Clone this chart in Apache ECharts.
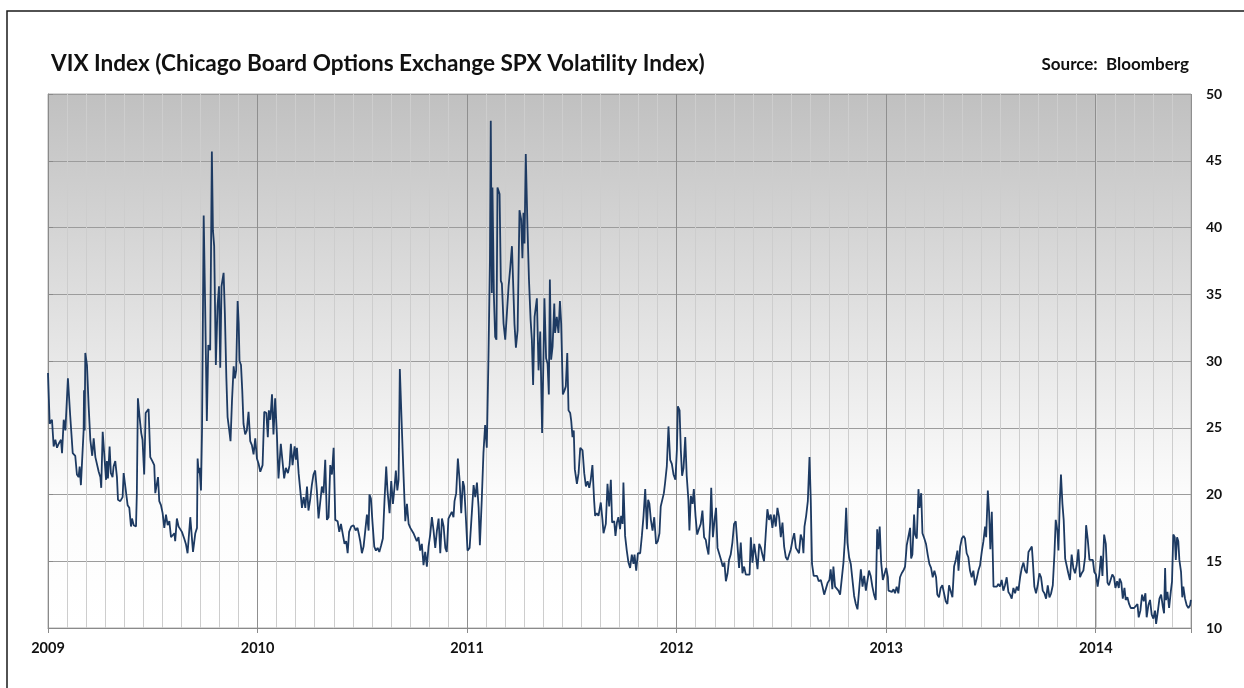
<!DOCTYPE html>
<html>
<head>
<meta charset="utf-8">
<title>VIX Index</title>
<script src="https://cdn.jsdelivr.net/npm/echarts@6/dist/echarts.min.js"></script>
<style>
  html, body { margin: 0; padding: 0; background: #fff; }
  #main { width: 1244px; height: 688px; }
</style>
</head>
<body>
<div id="main"></div>
<script>
// x positions in chart years (the axis is labelled 2009 .. 2014, 11 minor divisions per year)
var dates = [
  2009.000, 2009.008, 2009.019, 2009.027, 2009.035, 2009.043, 2009.051, 2009.062, 2009.067, 2009.075,
  2009.083, 2009.095, 2009.106, 2009.118, 2009.130, 2009.138, 2009.146, 2009.151, 2009.157, 2009.170,
  2009.172, 2009.175, 2009.178, 2009.186, 2009.194, 2009.202, 2009.211, 2009.218, 2009.226, 2009.234,
  2009.242, 2009.250, 2009.254, 2009.261, 2009.270, 2009.277, 2009.281, 2009.286, 2009.294, 2009.300,
  2009.308, 2009.313, 2009.321, 2009.329, 2009.334, 2009.345, 2009.356, 2009.361, 2009.369, 2009.380,
  2009.388, 2009.396, 2009.401, 2009.409, 2009.420, 2009.424, 2009.429, 2009.437, 2009.445, 2009.451,
  2009.459, 2009.466, 2009.480, 2009.488, 2009.498, 2009.507, 2009.512, 2009.520, 2009.525, 2009.531,
  2009.539, 2009.547, 2009.555, 2009.563, 2009.571, 2009.579, 2009.587, 2009.595, 2009.603, 2009.607,
  2009.615, 2009.623, 2009.631, 2009.639, 2009.650, 2009.658, 2009.666, 2009.674,
  2009.679, 2009.692, 2009.703, 2009.711, 2009.714, 2009.719, 2009.723, 2009.730, 2009.735, 2009.743,
  2009.750, 2009.758, 2009.765, 2009.774, 2009.782, 2009.787, 2009.793, 2009.801, 2009.809, 2009.816,
  2009.822, 2009.828, 2009.838, 2009.844, 2009.851, 2009.857, 2009.865, 2009.871, 2009.878, 2009.886,
  2009.892, 2009.898, 2009.905, 2009.910, 2009.914, 2009.921, 2009.927, 2009.933, 2009.941, 2009.949,
  2009.957, 2009.965, 2009.973, 2009.981, 2009.989, 2009.997,
  2010.005, 2010.013, 2010.024, 2010.032, 2010.042, 2010.049, 2010.054, 2010.061, 2010.069, 2010.076,
  2010.084, 2010.092, 2010.100, 2010.111, 2010.119, 2010.127, 2010.135, 2010.145, 2010.153, 2010.159,
  2010.167, 2010.177, 2010.183, 2010.188, 2010.196, 2010.204, 2010.212, 2010.220, 2010.228, 2010.236,
  2010.243, 2010.251, 2010.259, 2010.267, 2010.275, 2010.283, 2010.291, 2010.299, 2010.307, 2010.315,
  2010.323, 2010.331, 2010.339, 2010.347, 2010.355, 2010.363, 2010.371, 2010.382, 2010.390, 2010.398,
  2010.407, 2010.415, 2010.423, 2010.430, 2010.437, 2010.447, 2010.458, 2010.468, 2010.477, 2010.484,
  2010.490, 2010.498, 2010.506, 2010.514, 2010.522, 2010.530, 2010.534, 2010.541, 2010.549, 2010.557,
  2010.565, 2010.573, 2010.581, 2010.590, 2010.598, 2010.606, 2010.614, 2010.620, 2010.630, 2010.638,
  2010.646, 2010.654, 2010.660, 2010.667, 2010.673, 2010.679, 2010.689, 2010.697, 2010.705, 2010.713,
  2010.721, 2010.729, 2010.736, 2010.744, 2010.752, 2010.760, 2010.768, 2010.776, 2010.784, 2010.792,
  2010.800, 2010.808, 2010.816, 2010.824, 2010.832, 2010.840, 2010.848, 2010.856, 2010.864, 2010.872,
  2010.880, 2010.888, 2010.896, 2010.903, 2010.911, 2010.919, 2010.927, 2010.935, 2010.940, 2010.948,
  2010.956, 2010.964, 2010.972, 2010.980, 2010.986, 2010.994, 2011.002, 2011.012,
  2011.031, 2011.039, 2011.047, 2011.055, 2011.061, 2011.070, 2011.078, 2011.086, 2011.094, 2011.102,
  2011.109, 2011.113, 2011.118, 2011.121, 2011.128, 2011.134, 2011.140, 2011.145, 2011.155, 2011.161,
  2011.166, 2011.174, 2011.182, 2011.190, 2011.198, 2011.206, 2011.214, 2011.222, 2011.226, 2011.233,
  2011.241, 2011.250, 2011.258, 2011.264, 2011.269, 2011.274, 2011.280, 2011.288, 2011.295, 2011.303,
  2011.309, 2011.315, 2011.322, 2011.328, 2011.333, 2011.341, 2011.349, 2011.358, 2011.365, 2011.369,
  2011.377, 2011.384, 2011.390, 2011.395, 2011.401, 2011.408, 2011.416, 2011.420, 2011.428, 2011.436,
  2011.443, 2011.449, 2011.457, 2011.465, 2011.471, 2011.478, 2011.484, 2011.492, 2011.497, 2011.503,
  2011.509,
  2011.514, 2011.524, 2011.532, 2011.540, 2011.551, 2011.559, 2011.567, 2011.575, 2011.583, 2011.590,
  2011.598, 2011.606, 2011.611, 2011.619, 2011.627, 2011.638, 2011.646, 2011.651, 2011.662, 2011.670,
  2011.678, 2011.686, 2011.692, 2011.702, 2011.708, 2011.715, 2011.722, 2011.730, 2011.735, 2011.742,
  2011.746, 2011.754, 2011.762, 2011.770, 2011.778, 2011.786, 2011.794, 2011.799, 2011.807, 2011.815,
  2011.826, 2011.834, 2011.842, 2011.850, 2011.858, 2011.864, 2011.870, 2011.877, 2011.885, 2011.893,
  2011.902, 2011.910, 2011.918, 2011.924, 2011.932, 2011.939, 2011.945, 2011.953, 2011.961, 2011.969,
  2011.977, 2011.985, 2011.994, 2012.001, 2012.006, 2012.014, 2012.020, 2012.026, 2012.033, 2012.041,
  2012.048, 2012.056, 2012.061, 2012.068, 2012.076, 2012.082, 2012.090, 2012.098, 2012.106,
  2012.115, 2012.123, 2012.131, 2012.139, 2012.144, 2012.152, 2012.160, 2012.165, 2012.173, 2012.181,
  2012.188, 2012.195, 2012.204, 2012.212, 2012.220, 2012.228, 2012.235, 2012.243, 2012.250, 2012.258,
  2012.266, 2012.274, 2012.282, 2012.290, 2012.298, 2012.306, 2012.314, 2012.322, 2012.330, 2012.338,
  2012.348, 2012.354, 2012.362, 2012.370, 2012.378, 2012.386, 2012.394, 2012.402, 2012.409, 2012.417,
  2012.425, 2012.433, 2012.441, 2012.449, 2012.457, 2012.465, 2012.473, 2012.481, 2012.489, 2012.497,
  2012.505, 2012.513, 2012.521, 2012.529, 2012.537, 2012.545, 2012.553, 2012.561, 2012.569, 2012.576,
  2012.584, 2012.592, 2012.600, 2012.605, 2012.610, 2012.618, 2012.626, 2012.634, 2012.640, 2012.646,
  2012.654, 2012.662, 2012.670, 2012.678, 2012.688, 2012.696, 2012.704, 2012.713, 2012.721, 2012.729,
  2012.735, 2012.743, 2012.748, 2012.756, 2012.764, 2012.772, 2012.780, 2012.788, 2012.796, 2012.802,
  2012.809, 2012.815, 2012.823, 2012.831, 2012.839, 2012.847, 2012.855, 2012.863, 2012.871, 2012.879,
  2012.887, 2012.895, 2012.903, 2012.911, 2012.918, 2012.926, 2012.934, 2012.942, 2012.950, 2012.957,
  2012.963, 2012.969, 2012.976, 2012.984, 2012.992, 2013.000, 2013.008,
  2013.011, 2013.019, 2013.027, 2013.035, 2013.042, 2013.050, 2013.058, 2013.066, 2013.074, 2013.082,
  2013.090, 2013.098, 2013.106, 2013.114, 2013.119, 2013.125, 2013.133, 2013.138, 2013.146, 2013.154,
  2013.159, 2013.167, 2013.173, 2013.182, 2013.190, 2013.198, 2013.206, 2013.214, 2013.222, 2013.230,
  2013.238, 2013.244, 2013.252, 2013.260, 2013.268, 2013.276, 2013.284, 2013.292, 2013.300, 2013.308,
  2013.316, 2013.324, 2013.332, 2013.340, 2013.345, 2013.353, 2013.361, 2013.369, 2013.376, 2013.384,
  2013.392, 2013.400, 2013.408, 2013.416, 2013.424, 2013.432, 2013.440, 2013.448, 2013.456, 2013.464,
  2013.472, 2013.477, 2013.485, 2013.491, 2013.497, 2013.504, 2013.512, 2013.520, 2013.528, 2013.535,
  2013.543, 2013.551, 2013.559, 2013.567, 2013.575, 2013.583, 2013.591, 2013.599, 2013.607, 2013.615,
  2013.623, 2013.631, 2013.639, 2013.647, 2013.655, 2013.663, 2013.671, 2013.679, 2013.687, 2013.695,
  2013.699, 2013.707, 2013.715, 2013.723, 2013.731, 2013.739, 2013.747, 2013.755, 2013.763, 2013.771,
  2013.779, 2013.787, 2013.795, 2013.803, 2013.809, 2013.817, 2013.822, 2013.828, 2013.834, 2013.841,
  2013.847, 2013.854, 2013.861, 2013.869, 2013.877, 2013.885, 2013.893, 2013.901, 2013.909, 2013.917,
  2013.925, 2013.933, 2013.941, 2013.949, 2013.954, 2013.962, 2013.970, 2013.978, 2013.986,
  2013.993, 2014.001, 2014.009, 2014.017, 2014.025, 2014.032, 2014.040, 2014.048, 2014.056, 2014.063,
  2014.071, 2014.079, 2014.087, 2014.094, 2014.102, 2014.110, 2014.114, 2014.122, 2014.129, 2014.137,
  2014.143, 2014.151, 2014.159, 2014.167, 2014.175, 2014.183, 2014.191, 2014.199, 2014.205, 2014.213,
  2014.221, 2014.229, 2014.237, 2014.243, 2014.251, 2014.259, 2014.267, 2014.275, 2014.283, 2014.288,
  2014.296, 2014.304, 2014.312, 2014.320, 2014.326, 2014.331, 2014.335, 2014.342, 2014.350, 2014.358,
  2014.364, 2014.370, 2014.377, 2014.382, 2014.388, 2014.394, 2014.399, 2014.407, 2014.413, 2014.418,
  2014.426, 2014.434, 2014.442, 2014.450, 2014.454
];

var vix = [
  29.1, 25.3, 25.6, 23.6, 24.1, 23.5, 23.8, 24.1, 23.1, 25.6,
  24.8, 28.7, 25.9, 23.1, 22.9, 21.5, 21.3, 22.1, 20.7, 24.8,
  27.8, 24.8, 30.6, 29.7, 26.6, 24.1, 22.9, 24.2, 22.8, 22.9,
  21.7, 21.3, 20.5, 24.7, 24.6, 21.1, 22.5, 21.2, 23.6, 21.6,
  21.3, 22.1, 22.5, 21.3, 19.6, 19.5, 19.8, 21.6, 20.6, 19.2,
  19.0, 17.6, 18.2, 17.7, 17.6, 20.1, 27.2, 25.8, 24.6, 24.1,
  21.5, 26.1, 26.4, 22.8, 22.5, 22.2, 20.1, 20.0, 21.3, 19.5,
  19.2, 18.6, 17.5, 18.5, 17.7, 18.0, 16.8, 16.7, 17.1, 16.5,
  18.2, 17.6, 17.5, 17.2, 16.7, 16.3, 15.6, 15.6,
  18.3, 15.7, 17.1, 17.5, 22.7, 21.6, 22.0, 20.3, 24.8, 40.9,
  34.1, 25.5, 31.2, 30.8, 45.7, 39.8, 38.6, 29.7, 34.1, 35.6,
  29.5, 35.6, 36.6, 33.6, 28.8, 25.8, 24.8, 24.0, 27.0, 29.6,
  28.7, 29.3, 34.5, 32.8, 30.0, 29.7, 27.8, 25.3, 24.5, 24.8,
  26.2, 24.0, 23.7, 23.0, 24.2, 22.7,
  22.3, 21.7, 22.2, 26.2, 26.1, 24.3, 26.3, 25.6, 27.5, 24.5,
  27.2, 24.6, 21.2, 23.8, 22.5, 21.2, 22.0, 21.6, 22.2, 23.8,
  22.2, 23.6, 22.6, 23.5, 21.6, 21.5, 19.0, 19.8, 19.0, 20.6,
  18.8, 19.6, 20.7, 21.5, 21.8, 20.3, 18.2, 18.3, 20.6, 20.1,
  22.6, 18.1, 18.3, 22.2, 21.5, 23.5, 18.1, 18.0, 17.2, 17.8,
  17.8, 16.3, 16.5, 15.6, 17.2, 17.6, 17.7, 17.3, 17.5, 17.0,
  16.5, 15.6, 16.1, 17.3, 18.5, 17.3, 20.0, 19.7, 17.8, 16.1,
  15.8, 16.0, 15.7, 16.2, 16.7, 19.6, 22.1, 20.3, 18.6, 21.0,
  19.3, 20.6, 21.8, 20.3, 21.1, 29.4, 24.8, 21.3, 18.0, 19.3,
  17.8, 17.5, 17.6, 17.1, 17.2, 16.5, 16.8, 15.8, 16.3, 14.7,
  15.7, 14.6, 16.1, 17.0, 18.3, 17.3, 16.0, 17.3, 18.2, 15.6,
  18.2, 17.6, 16.0, 15.7, 18.2, 18.1, 18.7, 18.3, 19.5, 20.1,
  22.7, 21.1, 18.6, 21.0, 20.6, 18.3, 15.8, 16.0,
  20.7, 19.8, 20.9, 19.0, 16.2, 19.6, 23.1, 25.2, 23.5, 30.3,
  37.6, 48.0, 35.1, 43.0, 34.8, 31.8, 31.6, 43.0, 42.5, 36.0,
  35.8, 32.8, 31.6, 33.6, 35.6, 37.0, 38.6, 38.6, 32.8, 31.0,
  32.3, 41.3, 40.6, 37.7, 41.1, 38.8, 45.5, 40.1, 36.2, 33.1,
  31.6, 28.2, 33.3, 33.2, 34.7, 29.3, 32.2, 24.6, 30.8, 34.7,
  30.2, 29.8, 27.5, 36.1, 30.1, 31.1, 34.3, 32.1, 33.3, 32.1,
  34.5, 32.8, 27.5, 27.8, 28.1, 30.6, 26.3, 26.1, 25.5, 24.3,
  24.8,
  21.9, 20.8, 21.6, 23.5, 23.3, 21.6, 20.6, 21.0, 20.5, 21.1,
  22.2, 19.6, 18.4, 18.6, 18.4, 19.4, 18.1, 17.1, 17.8, 20.8,
  19.1, 21.1, 17.9, 18.0, 16.9, 17.9, 18.3, 17.4, 18.4, 17.8,
  20.9, 16.9, 15.8, 14.9, 14.5, 15.5, 14.8, 15.5, 14.3, 15.6,
  15.6, 16.9, 18.4, 20.4, 17.4, 19.6, 19.3, 18.1, 17.3, 18.3,
  16.3, 16.5, 17.1, 19.1, 19.0, 20.1, 20.9, 22.1, 25.1, 22.6,
  22.3, 21.5, 21.1, 23.3, 26.6, 26.3, 23.3, 21.4, 22.0, 24.3,
  21.4, 19.6, 17.3, 19.9, 19.3, 20.4, 18.4, 17.0, 17.4,
  17.8, 18.8, 16.8, 16.6, 16.1, 15.5, 17.9, 20.5, 16.8, 18.1,
  19.0, 16.0, 16.0, 15.1, 14.6, 14.9, 13.5, 14.1, 15.1, 15.5,
  16.4, 17.8, 18.0, 18.0, 14.5, 16.4, 14.1, 14.6, 14.0, 14.1,
  14.0, 16.8, 14.9, 16.3, 15.4, 14.4, 16.3, 16.0, 15.5, 15.0,
  17.0, 18.9, 18.1, 18.5, 17.5, 18.5, 17.6, 19.0, 18.3, 16.8,
  17.9, 16.1, 15.3, 15.1, 15.5, 15.9, 16.6, 17.1, 16.0, 16.0,
  15.6, 17.0, 16.6, 15.6, 17.6, 18.4, 19.5, 22.8, 19.6, 14.8,
  13.9, 13.8, 13.9, 13.5, 13.6, 13.1, 12.5, 12.5, 13.4, 13.6,
  14.4, 12.9, 14.6, 13.1, 13.0, 12.8, 12.5, 12.4, 14.9, 16.4,
  19.0, 16.4, 15.3, 14.8, 13.6, 12.4, 11.8, 11.4, 12.9, 14.4,
  13.1, 13.9, 12.8, 13.6, 14.3, 13.9, 13.1, 12.5, 12.1, 17.4,
  15.9, 17.6, 14.9, 13.6, 13.6, 14.5, 13.8,
  12.8, 12.9, 12.7, 12.9, 12.6, 13.1, 12.6, 13.8, 14.1, 14.3,
  14.6, 16.2, 16.2, 17.5, 15.2, 15.5, 18.5, 17.0, 16.7, 20.4,
  19.0, 20.1, 17.1, 16.7, 16.3, 15.5, 14.8, 14.5, 13.8, 14.3,
  13.8, 12.5, 12.3, 13.0, 13.2, 13.3, 12.0, 11.8, 13.2, 13.3,
  12.3, 14.6, 15.1, 15.8, 14.3, 16.1, 16.7, 16.9, 16.7, 15.6,
  15.3, 14.3, 13.8, 14.3, 13.2, 13.7, 14.3, 14.7, 15.7, 16.5,
  17.6, 16.8, 20.3, 18.7, 15.9, 18.7, 13.1, 13.2, 13.1, 13.3,
  13.1, 13.6, 12.8, 13.2, 13.8, 12.7, 12.5, 12.2, 13.0, 12.6,
  13.1, 12.8, 13.8, 14.5, 14.9, 14.3, 14.1, 15.7, 15.9, 16.1,
  15.2, 13.1, 12.6, 13.2, 14.1, 13.8, 12.8, 12.6, 12.2, 13.2,
  12.3, 12.6, 13.2, 15.6, 18.1, 17.3, 15.8, 19.3, 21.5, 19.3,
  18.1, 15.2, 15.1, 14.1, 13.6, 15.5, 14.5, 14.1, 14.7, 15.9,
  13.8, 14.1, 14.3, 15.3, 17.7, 16.6, 15.1, 15.1, 15.1,
  14.2, 14.0, 13.1, 14.0, 15.4, 13.9, 17.0, 16.3, 13.4, 13.2,
  13.2, 14.0, 13.8, 13.0, 13.5, 13.0, 13.7, 13.4, 12.2, 13.0,
  12.1, 12.3, 11.8, 11.5, 11.6, 11.5, 11.6, 11.8, 10.8, 11.3,
  12.5, 12.0, 12.6, 10.8, 11.7, 12.1, 11.0, 10.7, 11.3, 10.3,
  11.2, 12.2, 12.5, 11.6, 11.1, 14.5, 12.1, 12.7, 11.5, 12.7,
  13.5, 17.0, 16.8, 15.1, 16.8, 16.5, 15.1, 14.2, 12.3, 13.1,
  12.2, 11.7, 11.5, 11.7, 12.1
];

var yearLabels = ['2009', '2010', '2011', '2012', '2013', '2014'];
var yTicks = [10, 15, 20, 25, 30, 35, 40, 45, 50];

var seriesData = dates.map(function (d, i) { return [d, vix[i]]; });
var font = 'Lato, "DejaVu Sans", sans-serif';

var chart = echarts.init(document.getElementById('main'));
chart.setOption({
  animation: false,
  backgroundColor: '#ffffff',
  graphic: [{
    type: 'rect',
    shape: { x: 7, y: 11, width: 1260, height: 700 },
    style: { fill: 'none', stroke: '#1a1a1a', lineWidth: 1.5 },
    silent: true
  }],
  title: [{
    text: 'VIX Index (Chicago Board Options Exchange SPX Volatility Index)',
    left: 51,
    top: 52,
    padding: 0,
    textStyle: { fontFamily: font, fontWeight: 'bold', fontSize: 22.6, color: '#111' }
  }, {
    text: 'Source:  Bloomberg',
    right: 55,
    top: 56,
    padding: 0,
    textStyle: { fontFamily: font, fontWeight: 'bold', fontSize: 17, color: '#111' }
  }],
  grid: {
    left: 48,
    right: 53,
    top: 94,
    bottom: 60,
    show: true,
    borderColor: '#b0b0b0',
    borderWidth: 1,
    backgroundColor: {
      type: 'linear', x: 0, y: 0, x2: 0, y2: 1,
      colorStops: [
        { offset: 0, color: '#c0c0c0' },
        { offset: 0.45, color: '#e4e4e4' },
        { offset: 0.75, color: '#fcfcfc' },
        { offset: 1, color: '#ffffff' }
      ]
    }
  },
  xAxis: [{
    // minor grid: 11 divisions per labelled year
    type: 'value',
    position: 'top',
    min: 0,
    max: 60,
    interval: 1,
    axisLine: { show: false },
    axisTick: { show: false },
    axisLabel: { show: false },
    splitLine: { show: true, lineStyle: { color: '#cdcdcd', width: 1 } }
  }, {
    type: 'value',
    position: 'bottom',
    min: 2009,
    max: 2009 + 60 / 11,
    interval: 1,
    axisLine: { show: true, lineStyle: { color: '#8a8a8a', width: 1 } },
    axisTick: { show: true, length: 5, lineStyle: { color: '#8a8a8a' } },
    axisLabel: {
      margin: 13,
      fontFamily: font,
      fontWeight: 'bold',
      fontSize: 14.5,
      color: '#111',
      formatter: function (v) {
        var k = Math.round(v) - 2009;
        return Math.abs(v - Math.round(v)) < 1e-6 && yearLabels[k] ? yearLabels[k] : '';
      }
    },
    splitLine: { show: true, lineStyle: { color: '#8f8f8f', width: 1 } }
  }],
  yAxis: {
    type: 'value',
    position: 'right',
    min: yTicks[0],
    max: yTicks[yTicks.length - 1],
    interval: 5,
    axisLine: { show: true, lineStyle: { color: '#8a8a8a', width: 1 } },
    axisTick: { show: true, length: 5, lineStyle: { color: '#8a8a8a' } },
    axisLabel: {
      margin: 15,
      fontFamily: font,
      fontWeight: 'bold',
      fontSize: 14,
      color: '#111'
    },
    splitLine: { show: true, lineStyle: { color: '#9c9c9c', width: 1 } }
  },
  series: [{
    name: 'VIX',
    type: 'line',
    xAxisIndex: 1,
    data: seriesData,
    showSymbol: false,
    symbol: 'none',
    lineStyle: { color: '#1d3a62', width: 1.8 },
    z: 3
  }]
});
window.onresize = chart.resize;
</script>
</body>
</html>
